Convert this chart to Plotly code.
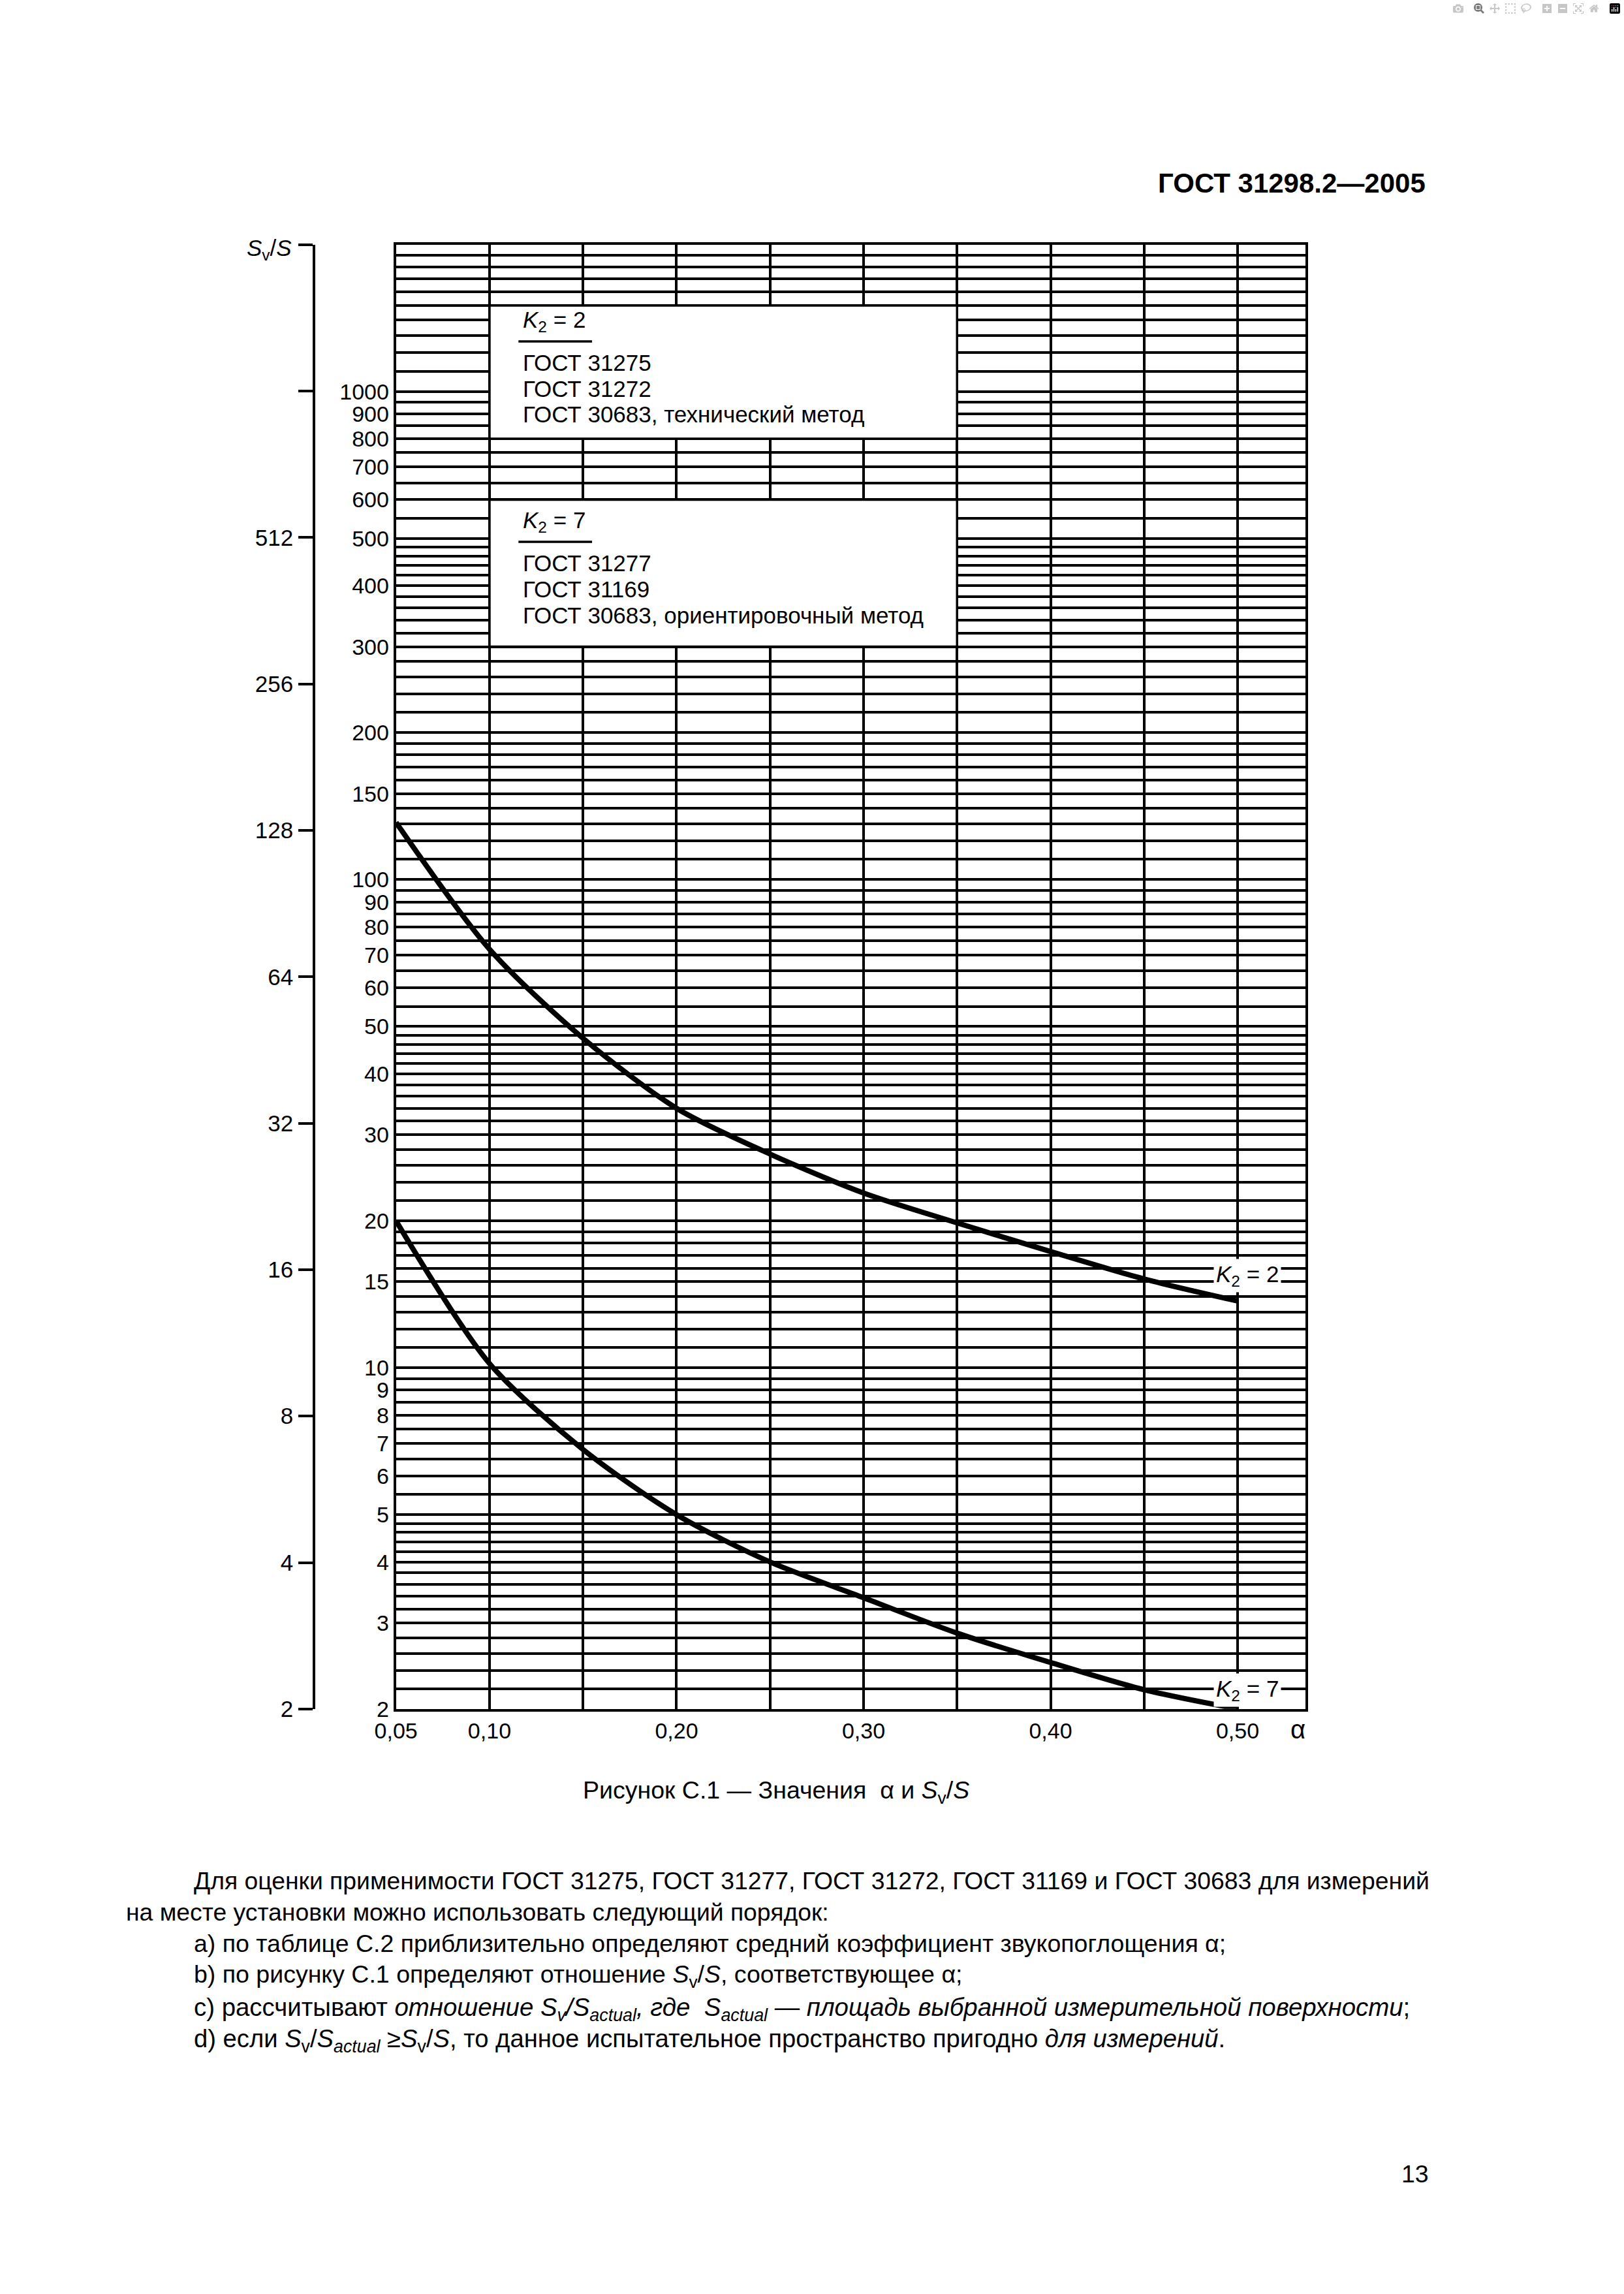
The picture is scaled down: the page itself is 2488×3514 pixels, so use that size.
import math
import plotly.graph_objects as go

W, H = 2488, 3514

# ---------------- data ----------------
alpha = [0.05, 0.10, 0.15, 0.20, 0.25, 0.30, 0.35, 0.40, 0.45, 0.50]
sv_k2_2 = [131, 72, 47.3, 34, 27.4, 22.8, 19.8, 17.3, 15.2, 13.7]
sv_k2_7 = [20, 10.2, 6.8, 5.0, 4.0, 3.38, 2.86, 2.49, 2.19, 2.0]

x_labeled = [0.05, 0.10, 0.20, 0.30, 0.40, 0.50]
x_labels = ["0,05", "0,10", "0,20", "0,30", "0,40", "0,50"]
x_grid_extra = [0.15, 0.25, 0.35, 0.45]

y_labeled = [2, 3, 4, 5, 6, 7, 8, 9, 10, 15, 20, 30, 40, 50, 60, 70, 80, 90,
             100, 150, 200, 300, 400, 500, 600, 700, 800, 900, 1000]
y_grid_extra = [2.2, 2.4, 2.6, 2.8, 3.2, 3.4, 3.6, 3.8, 4.2, 4.4, 4.6, 4.8,
                5.5, 6.5, 7.5, 8.5, 9.5,
                11, 12, 13, 14, 16, 17, 18, 19,
                22, 24, 26, 28, 32, 34, 36, 38, 42, 44, 46, 48,
                55, 65, 75, 85, 95,
                110, 120, 130, 140, 160, 170, 180, 190,
                220, 240, 260, 280, 320, 340, 360, 380, 420, 440, 460, 480,
                550, 650, 750, 850, 950,
                1100, 1200, 1300, 1400, 1500, 1600, 1700, 1800, 1900, 2000]

outer_labeled = [2, 4, 8, 16, 32, 64, 128, 256, 512]
outer_unlabeled = [1024, 2048]

box1_x = [0.10, 0.35]
box1_y = [800, 1500]
box2_x = [0.10, 0.35]
box2_y = [300, 600]

box1_lines = ["ГОСТ 31275", "ГОСТ 31272", "ГОСТ 30683, технический метод"]
box2_lines = ["ГОСТ 31277", "ГОСТ 31169", "ГОСТ 30683, ориентировочный метод"]

# ---------------- geometry (page pixels of the reference) ----------------
PL, PR, PT, PB = 603, 1999, 370, 2621
OUTER_X = 477
FONT = "Liberation Sans, Arial, Helvetica, sans-serif"
GRID_W = 3.5


def X(x):
    # page x (reference) -> figure x, compensating the capture offset
    return 1.0113 * x - 28.4


def Y(y):
    return 1.002 * y + 5.8


def px(x):
    return X(x) / W


def py(y):
    return 1 - Y(y) / H


ydom = [py(PB), py(PT)]
ymin, ymax = math.log10(2), math.log10(2000)
per_dec = (ydom[1] - ydom[0]) / (ymax - ymin)
y2max = math.log10(2050)
ydom2 = [ydom[0], ydom[1] + (y2max - ymax) * per_dec]

fig = go.Figure()

for bx, by in [(box1_x, box1_y), (box2_x, box2_y)]:
    fig.add_trace(go.Scatter(
        x=[bx[0], bx[1], bx[1], bx[0], bx[0]],
        y=[by[0], by[0], by[1], by[1], by[0]],
        mode="lines", fill="toself", fillcolor="white",
        line=dict(color="black", width=GRID_W), hoverinfo="skip", showlegend=False))

for ys in (sv_k2_2, sv_k2_7):
    fig.add_trace(go.Scatter(
        x=alpha, y=ys, mode="lines",
        line=dict(color="black", width=8, shape="spline", smoothing=0.8),
        showlegend=False))

fig.add_trace(go.Scatter(x=[0.3, 0.3], y=[outer_labeled[0], outer_labeled[-1]],
                         yaxis="y2", mode="markers", marker=dict(opacity=0),
                         hoverinfo="skip", showlegend=False))

fig.update_layout(
    width=W, height=H,
    margin=dict(l=0, r=0, t=0, b=0),
    paper_bgcolor="white", plot_bgcolor="rgba(0,0,0,0)",
    font=dict(family=FONT, size=34, color="black"),
    xaxis=dict(
        domain=[px(PL), px(PR)], range=[0.05, 0.5362],
        tickmode="array", tickvals=x_labeled, ticktext=x_labels,
        showgrid=True, gridcolor="black", gridwidth=GRID_W,
        minor=dict(tickmode="array", tickvals=x_grid_extra, showgrid=True,
                   gridcolor="black", gridwidth=GRID_W, ticks=""),
        showline=True, linecolor="black", linewidth=4, mirror=True,
        ticks="", zeroline=False, ticklabelstandoff=0,
        tickfont=dict(size=34, family=FONT)),
    yaxis=dict(
        domain=ydom, type="log", range=[ymin, ymax],
        tickmode="array", tickvals=y_labeled,
        ticktext=[str(v) for v in y_labeled],
        showgrid=True, gridcolor="black", gridwidth=GRID_W,
        minor=dict(tickmode="array", tickvals=y_grid_extra, showgrid=True,
                   gridcolor="black", gridwidth=GRID_W, ticks=""),
        showline=True, linecolor="black", linewidth=4, mirror=True,
        ticks="", zeroline=False, ticklabelstandoff=0,
        tickfont=dict(size=34, family=FONT)),
    yaxis2=dict(
        domain=ydom2, type="log", range=[ymin, y2max],
        overlaying="y",
        anchor="free", position=px(OUTER_X), side="left",
        tickmode="array", tickvals=outer_labeled,
        ticktext=[str(v) for v in outer_labeled],
        ticks="outside", ticklen=22, tickwidth=3.5, tickcolor="black",
        minor=dict(tickmode="array", tickvals=outer_unlabeled, ticks="outside",
                   ticklen=22, tickwidth=3.5, tickcolor="black", showgrid=False),
        showline=True, linecolor="black", linewidth=3.5,
        showgrid=False, zeroline=False, ticklabelstandoff=1,
        tickfont=dict(size=35, family=FONT)),
)

ann = []


def text(x, y, s, size=34, xanchor="left", yanchor="middle", **kw):
    ann.append(dict(x=px(x), y=py(y), xref="paper", yref="paper", text=s,
                    showarrow=False, xanchor=xanchor, yanchor=yanchor,
                    font=dict(family=FONT, size=size, color="black"), **kw))


text(796, 488, "<i>K</i><sub>2</sub> = 2", 35)
for i, s in enumerate(box1_lines):
    text(796, 552 + 39.5 * i, s, 35)
text(796, 796, "<i>K</i><sub>2</sub> = 7", 35)
for i, s in enumerate(box2_lines):
    text(796, 860 + 40 * i, s, 35)

shapes = []
for yy in (519, 827):
    shapes.append(dict(type="line", xref="paper", yref="paper",
                       x0=px(791), x1=px(904), y0=py(yy), y1=py(yy),
                       line=dict(color="black", width=3.5)))

text(1910, 1955, "<i>K</i><sub>2</sub> = 2", 35, xanchor="center",
     bgcolor="white", borderpad=3)
text(1910, 2592, "<i>K</i><sub>2</sub> = 7", 35, xanchor="center",
     bgcolor="white", borderpad=3)

text(1988, 2652, "α", 40, xanchor="center")
text(445, 378, "<i>S</i><sub>v</sub>/<i>S</i>", 35, xanchor="right")

text(2186, 276, "<b>ГОСТ 31298.2—2005</b>", 42, xanchor="right")
text(1187, 2749, "Рисунок С.1 — Значения  α и <i>S</i><sub>v</sub>/<i>S</i>", 37.5,
     xanchor="center")

para = [
    (291, 2882, 37.3, "Для оценки применимости ГОСТ 31275, ГОСТ 31277, ГОСТ 31272, ГОСТ 31169 и ГОСТ 30683 для измерений"),
    (186, 2930, 37.3, "на месте установки можно использовать следующий порядок:"),
    (291, 2978, 37.5, "a) по таблице С.2 приблизительно определяют средний коэффициент звукопоглощения α;"),
    (291, 3026, 37.5, "b) по рисунку С.1 определяют отношение <i>S</i><sub>v</sub>/<i>S</i>, соответствующее α;"),
    (291, 3076, 38.4, "c) рассчитывают <i>отношение S<sub>v</sub>/S<sub>actual</sub>, где  S<sub>actual</sub></i> — <i>площадь выбранной измерительной поверхности</i>;"),
    (291, 3124, 38.2, "d) если <i>S</i><sub>v</sub>/<i>S<sub>actual</sub></i> ≥<i>S</i><sub>v</sub>/<i>S</i>, то данное испытательное пространство пригодно <i>для измерений</i>."),
]
for x, y, fs, s in para:
    text(x, y - 20, s, fs, yanchor="top")

text(2191, 3336, "13", 37.5, xanchor="right")

fig.update_layout(annotations=ann, shapes=shapes)

fig.write_html("out.html",
               post_script="document.body.style.margin='0';document.body.style.overflow='hidden';")
